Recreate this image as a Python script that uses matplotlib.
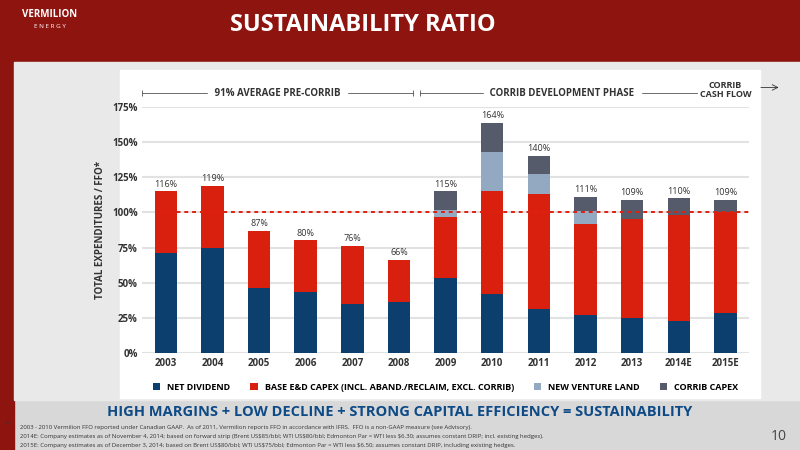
import matplotlib
matplotlib.use("Agg")
import matplotlib.pyplot as plt
import numpy as np
from matplotlib.patches import Rectangle

plt.rcParams["font.family"] = ["Open Sans", "DejaVu Sans"]

years = ["2003", "2004", "2005", "2006", "2007", "2008", "2009", "2010",
         "2011", "2012", "2013", "2014E", "2015E"]
net_dividend = [71, 75, 46, 43, 35, 36, 53, 42, 31, 27, 25, 23, 28]
base_capex = [44, 44, 41, 37, 41, 30, 44, 73, 82, 65, 70, 75, 72]
new_venture = [0, 0, 0, 0, 0, 0, 5, 28, 14, 9, 0, 0, 0]
corrib_capex = [0, 0, 0, 0, 0, 0, 13, 21, 13, 10, 14, 12, 9]
totals = ["116%", "119%", "87%", "80%", "76%", "66%", "115%", "164%",
          "140%", "111%", "109%", "110%", "109%"]
yticks = [0, 25, 50, 75, 100, 125, 150, 175]

C_DIV, C_BASE, C_NVL, C_COR = "#0d3f6e", "#d9200f", "#93a9c2", "#565b6c"
RED_BG = "#8e1410"

fig = plt.figure(figsize=(8, 4.5), dpi=100)
fig.patch.set_facecolor("#d8d8d8")
# slide background
bg = fig.add_axes([0, 0, 1, 1])
bg.set_xlim(0, 800); bg.set_ylim(450, 0); bg.set_axis_off()
bg.add_patch(Rectangle((0, 0), 800, 62, color=RED_BG))
bg.add_patch(Rectangle((0, 0), 14, 450, color=RED_BG))
bg.add_patch(Rectangle((14, 62), 786, 338, color="#e9e9e9"))
bg.add_patch(Rectangle((120, 70), 640, 328, color="white"))
bg.text(50, 17, "VERMILION", color="white", fontsize=7, fontweight="bold", ha="center")
bg.text(50, 28, "E N E R G Y", color="white", fontsize=4.5, ha="center")
bg.text(230, 25, "SUSTAINABILITY RATIO", color="white", fontsize=17,
        fontweight="bold", va="center")
bg.text(400, 412, "HIGH MARGINS + LOW DECLINE + STRONG CAPITAL EFFICIENCY = SUSTAINABILITY",
        color="#0d4a86", fontsize=10.5, fontweight="bold", ha="center", va="center")
notes = ["2003 - 2010 Vermilion FFO reported under Canadian GAAP.  As of 2011, Vermilion reports FFO in accordance with IFRS.  FFO is a non-GAAP measure (see Advisory).",
         "2014E: Company estimates as of November 4, 2014; based on forward strip (Brent US$85/bbl; WTI US$80/bbl; Edmonton Par = WTI less $6.30; assumes constant DRIP; incl. existing hedges).",
         "2015E: Company estimates as of December 3, 2014; based on Brent US$80/bbl; WTI US$75/bbl; Edmonton Par = WTI less $6.50; assumes constant DRIP, including existing hedges."]
bg.text(6, 426, "*", fontsize=5, color="#333333")
for i, n in enumerate(notes):
    bg.text(20, 427 + i * 9.5, n, fontsize=4.3, color="#333333", va="center")
bg.text(787, 436, "10", fontsize=10, color="#444444", ha="right", va="center")

ax = fig.add_axes([0.178, 0.216, 0.758, 0.546])
x = np.arange(len(years))
w = 0.48
b1 = np.array(net_dividend)
b2 = b1 + np.array(base_capex)
b3 = b2 + np.array(new_venture)
ax.bar(x, net_dividend, w, color=C_DIV, zorder=3, label="NET DIVIDEND")
ax.bar(x, base_capex, w, bottom=b1, color=C_BASE, zorder=3,
       label="BASE E&D CAPEX (INCL. ABAND./RECLAIM, EXCL. CORRIB)")
ax.bar(x, new_venture, w, bottom=b2, color=C_NVL, zorder=3, label="NEW VENTURE LAND")
ax.bar(x, corrib_capex, w, bottom=b3, color=C_COR, zorder=3, label="CORRIB CAPEX")
tops = b3 + np.array(corrib_capex)
for xi, t, lab in zip(x, tops, totals):
    ax.text(xi, t + 2, lab, ha="center", va="bottom", fontsize=6.5, color="#333333")
ax.axhline(100, xmin=0.03, color="#e02010", ls=(0, (2, 2)), lw=1.4, zorder=4)
ax.set_ylim(0, 175)
ax.set_xlim(-0.5, len(years) - 0.5)
ax.set_yticks(yticks)
ax.set_yticklabels([f"{v}%" for v in yticks])
ax.set_xticks(x)
ax.set_xticklabels(years)
ax.tick_params(length=0, labelsize=7, colors="#333333")
for lab in ax.get_xticklabels() + ax.get_yticklabels():
    lab.set_fontweight("bold")
ax.grid(axis="y", color="#e2e2e2", lw=1.5, zorder=0)
for s in ax.spines.values():
    s.set_visible(False)
ax.set_facecolor("none")
ax.set_ylabel("TOTAL EXPENDITURES / FFO*", fontsize=7, fontweight="bold", color="#333333")

ax.legend(loc="upper center", bbox_to_anchor=(0.5, -0.09), ncol=4, frameon=False,
          handlelength=0.8, handleheight=0.8, columnspacing=2.2,
          prop={"weight": "bold", "size": 6.5})

# phase annotations
kw = dict(fontsize=7, fontweight="bold", color="#333333", va="center", zorder=6)
lk = dict(color="#555555", lw=0.6, clip_on=False, zorder=5)
ax.plot([-0.5, 5.3], [185, 185], **lk)
ax.plot([-0.5, 5.3], [185, 185], ls="none", marker="|", ms=4, mew=0.6, color="#555555", clip_on=False)
ax.text(2.4, 185, " 91% AVERAGE PRE-CORRIB ", ha="center", backgroundcolor="white", **kw)
ax.plot([5.45, 11.4], [185, 185], **lk)
ax.plot([5.45], [185], ls="none", marker="|", ms=4, mew=0.6, color="#555555", clip_on=False)
ax.text(8.5, 185, " CORRIB DEVELOPMENT PHASE ", ha="center", backgroundcolor="white", **kw)
ax.text(12.0, 187, "CORRIB\nCASH FLOW", ha="center", fontsize=6.5, fontweight="bold",
        color="#333333", va="center", linespacing=1.0)
ax.annotate("", xy=(13.2, 189), xytext=(12.7, 189), annotation_clip=False,
            arrowprops=dict(arrowstyle="->", lw=0.6, color="#333333"))

fig.savefig("out.png", dpi=100)
